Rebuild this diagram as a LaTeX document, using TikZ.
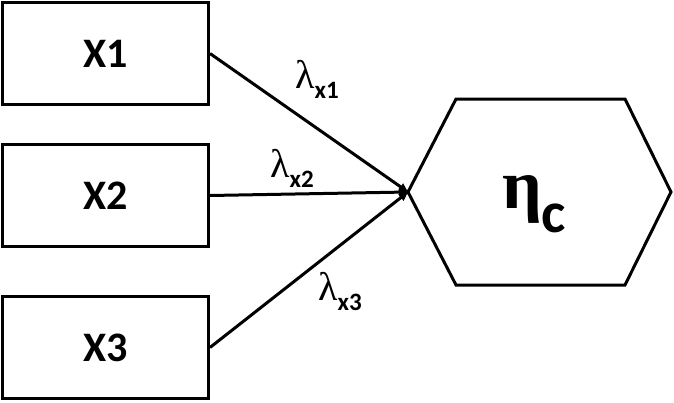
\documentclass[tikz,border=0pt]{standalone}
\usepackage{fontspec}
\setmainfont{Carlito}
\newfontfamily\grk{Liberation Serif}
\usetikzlibrary{arrows.meta}
\tikzset{
  varbox/.style={draw=black, line width=3pt, minimum width=206pt, minimum height=102pt,
    inner sep=0pt, font=\fontsize{42}{42}\selectfont\bfseries},
  load/.style={line width=3pt, -{Triangle[length=9pt,width=8pt]}},
  lab/.style={anchor=base west, inner sep=0pt},
}
\newcommand{\lamlab}[1]{{\grk\fontsize{40}{40}\selectfont λ}\raisebox{-10pt}{\fontsize{25}{25}\selectfont\bfseries #1}}
\begin{document}
\begin{tikzpicture}[x=1pt,y=-1pt]
\useasboundingbox (0,0) rectangle (674,402);
\node[varbox] (x1) at (105.5,53.5) {X1};
\node[varbox] (x2) at (105.5,195.5) {X2};
\node[varbox] (x3) at (105.5,347.5) {X3};
\coordinate (hl) at (408,192);
\coordinate (htl) at (456,99);
\coordinate (htr) at (625,99);
\coordinate (hr) at (671,192);
\coordinate (hbr) at (625,285);
\coordinate (hbl) at (456,285);
\draw[line width=3pt, line join=miter] (hl) -- (htl) -- (htr) -- (hr) -- (hbr) -- (hbl) -- cycle;
\node[lab] (eta) at (502,208) {{\grk\bfseries\fontsize{70}{70}\selectfont η}\raisebox{-24pt}{\fontsize{58}{58}\selectfont\bfseries c}};
\draw[load] (x1.east) -- (hl);
\draw[load] (x2.east) -- (hl);
\draw[load] (x3.east) -- (hl);
\node[lab] (l1) at (295,88) {\lamlab{x1}};
\node[lab] (l2) at (270,177) {\lamlab{x2}};
\node[lab] (l3) at (318,300) {\lamlab{x3}};
\end{tikzpicture}
\end{document}
